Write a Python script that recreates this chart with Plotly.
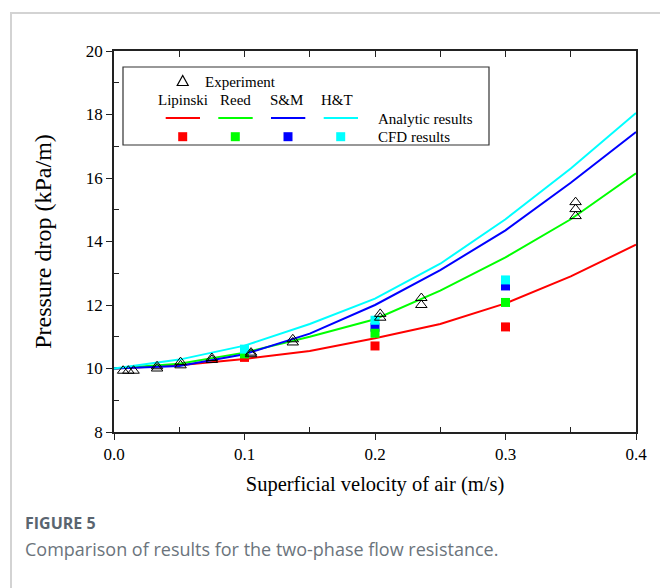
import plotly.graph_objects as go

# ---------------- data ----------------
x_analytic = [0.0, 0.05, 0.1, 0.15, 0.2, 0.25, 0.3, 0.35, 0.4]
lipinski = [10.0, 10.1, 10.3, 10.55, 10.95, 11.4, 12.05, 12.9, 13.9]
reed = [10.0, 10.15, 10.5, 11.0, 11.55, 12.45, 13.5, 14.7, 16.15]
sm = [10.0, 10.08, 10.45, 11.1, 12.0, 13.1, 14.35, 15.85, 17.45]
ht = [10.0, 10.28, 10.72, 11.4, 12.2, 13.3, 14.7, 16.3, 18.05]

x_cfd = [0.1, 0.2, 0.3]
cfd_lipinski = [10.35, 10.71, 11.31]
cfd_reed = [10.46, 11.11, 12.08]
cfd_sm = [10.52, 11.30, 12.60]
cfd_ht = [10.61, 11.52, 12.79]

exp_x = [0.007, 0.011, 0.015, 0.033, 0.033, 0.051, 0.051, 0.075, 0.075,
         0.105, 0.105, 0.137, 0.137, 0.204, 0.204, 0.2355, 0.2355,
         0.3537, 0.3537, 0.3537]
exp_y = [9.93, 9.93, 9.93, 10.0, 10.07, 10.1, 10.2, 10.27, 10.33,
         10.45, 10.5, 10.82, 10.92, 11.6, 11.72, 12.0, 12.22,
         14.8, 15.02, 15.24]

series_names = ["Lipinski", "Reed", "S&M", "H&T"]
colors = ["#ff0000", "#00ff00", "#0000ff", "#00ffff"]
analytic = [lipinski, reed, sm, ht]
cfd = [cfd_lipinski, cfd_reed, cfd_sm, cfd_ht]

SERIF = "Liberation Serif, Times New Roman, serif"
SANS = "Open Sans, Noto Sans, sans-serif"

# ---------------- figure geometry ----------------
W, H = 660, 588
L, R, T, B = 114, 636, 51, 432


def px2x(px):
    return (px - L) / (R - L)


def py2y(py):
    return (B - py) / (B - T)


fig = go.Figure()

for name, c, yv in zip(series_names, colors, analytic):
    fig.add_trace(go.Scatter(x=x_analytic, y=yv, mode="lines", name=name,
                             line=dict(color=c, width=2), showlegend=False))

for i in [0, 2, 1, 3]:
    fig.add_trace(go.Scatter(x=x_cfd, y=cfd[i], mode="markers",
                             name=series_names[i] + " CFD",
                             marker=dict(symbol="square", size=9, color=colors[i],
                                         line=dict(width=0)),
                             showlegend=False))

fig.add_trace(go.Scatter(x=exp_x, y=exp_y, mode="markers", name="Experiment",
                         marker=dict(symbol="triangle-up-open", size=10, color="black",
                                     line=dict(width=1, color="black")),
                         showlegend=False))

# invisible trace for top mirror axis
fig.add_trace(go.Scatter(x=[0, 0.4], y=[8, 20], xaxis="x2", mode="markers",
                         marker=dict(opacity=0), hoverinfo="skip", showlegend=False))

shapes = []
annotations = []

# card border
shapes.append(dict(type="rect", xref="paper", yref="paper",
                   x0=px2x(11), x1=px2x(700), y0=py2y(640), y1=py2y(13),
                   line=dict(color="#d3d3d3", width=2), fillcolor="rgba(0,0,0,0)",
                   layer="below"))

# legend box
shapes.append(dict(type="rect", xref="paper", yref="paper",
                   x0=px2x(123), x1=px2x(489), y0=py2y(145), y1=py2y(67),
                   line=dict(color="#333333", width=1.2), fillcolor="white"))

LEG_FONT = 15

# legend triangle
tx, ty = 182.7, 81
tri = "M {} {} L {} {} L {} {} Z".format(px2x(tx - 5.5), py2y(ty + 4.5),
                                         px2x(tx + 5.5), py2y(ty + 4.5),
                                         px2x(tx), py2y(ty - 5.5))
shapes.append(dict(type="path", xref="paper", yref="paper", path=tri,
                   line=dict(color="black", width=1.2)))
annotations.append(dict(text="Experiment", xref="paper", yref="paper",
                        x=px2x(203), y=py2y(81.5), xanchor="left", yanchor="middle",
                        showarrow=False, font=dict(family=SERIF, size=LEG_FONT, color="black")))

label_cx = [182.7, 235.3, 286.0, 336.7]
seg = [(165.7, 200), (218.3, 252.7), (271, 305.3), (323.7, 358)]
sq_cx = [182.7, 235.3, 288.0, 340.7]
for i, name in enumerate(series_names):
    annotations.append(dict(text=name, xref="paper", yref="paper",
                            x=px2x(label_cx[i]), y=py2y(100), xanchor="center",
                            yanchor="middle", showarrow=False,
                            font=dict(family=SERIF, size=LEG_FONT, color="black")))
    shapes.append(dict(type="line", xref="paper", yref="paper",
                       x0=px2x(seg[i][0]), x1=px2x(seg[i][1]),
                       y0=py2y(118), y1=py2y(118),
                       line=dict(color=colors[i], width=2)))
    shapes.append(dict(type="rect", xref="paper", yref="paper",
                       x0=px2x(sq_cx[i] - 4.5), x1=px2x(sq_cx[i] + 4.5),
                       y0=py2y(136.7 + 4.5), y1=py2y(136.7 - 4.5),
                       line=dict(width=0), fillcolor=colors[i]))

annotations.append(dict(text="Analytic results", xref="paper", yref="paper",
                        x=px2x(376), y=py2y(118.5), xanchor="left", yanchor="middle",
                        showarrow=False, font=dict(family=SERIF, size=LEG_FONT, color="black")))
annotations.append(dict(text="CFD results", xref="paper", yref="paper",
                        x=px2x(376), y=py2y(137), xanchor="left", yanchor="middle",
                        showarrow=False, font=dict(family=SERIF, size=LEG_FONT, color="black")))

# caption
annotations.append(dict(text="<b>FIGURE 5</b>", xref="paper", yref="paper",
                        x=px2x(23), y=py2y(523), xanchor="left", yanchor="middle",
                        showarrow=False, font=dict(family=SANS, size=16, color="#5a6570")))
annotations.append(dict(text="Comparison of results for the two-phase flow resistance.",
                        xref="paper", yref="paper",
                        x=px2x(23), y=py2y(549), xanchor="left", yanchor="middle",
                        showarrow=False, font=dict(family=SANS, size=18, color="#6b747c")))

axis_common = dict(showgrid=False, zeroline=False, linecolor="#222222", linewidth=1.5,
                   tickcolor="#222222", tickfont=dict(family=SERIF, size=17, color="black"))

fig.update_layout(
    width=W, height=H,
    margin=dict(l=L, r=W - R, t=T, b=H - B, pad=0),
    paper_bgcolor="white", plot_bgcolor="white",
    showlegend=False,
    xaxis=dict(range=[0, 0.4], tickvals=[0, 0.1, 0.2, 0.3, 0.4],
               ticktext=["0.0", "0.1", "0.2", "0.3", "0.4"],
               ticks="outside", ticklen=6, tickwidth=1.3, mirror=True,
               minor=dict(tickvals=[0.05, 0.15, 0.25, 0.35], ticks="inside",
                          ticklen=5, tickwidth=1.3, tickcolor="#222222"),
               title=dict(text="Superficial velocity of air (m/s)", standoff=13,
                          font=dict(family=SERIF, size=20.5, color="black")),
               **axis_common),
    xaxis2=dict(range=[0, 0.4], overlaying="x", side="top",
                tickvals=[0.05, 0.1, 0.15, 0.2, 0.25, 0.3, 0.35],
                ticks="inside", ticklen=6, tickwidth=1.3, tickcolor="#222222",
                showticklabels=False, showline=False, showgrid=False, zeroline=False),
    yaxis=dict(range=[8, 20], tickvals=[8, 10, 12, 14, 16, 18, 20],
               ticks="outside", ticklen=6, tickwidth=1.3, mirror=True,
               minor=dict(tickvals=[9, 11, 13, 15, 17, 19], ticks="inside",
                          ticklen=5, tickwidth=1.3, tickcolor="#222222"),
               title=dict(text="Pressure drop (kPa/m)", standoff=27,
                          font=dict(family=SERIF, size=24, color="black")),
               **axis_common),
    shapes=shapes,
    annotations=annotations,
)

fig.write_html("out.html")
